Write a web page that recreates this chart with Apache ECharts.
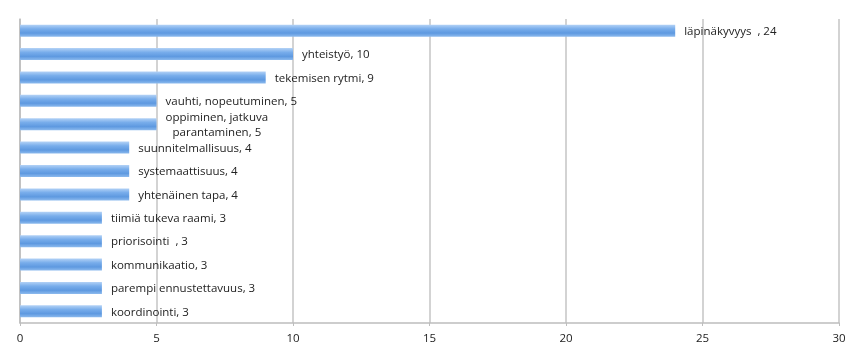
<!DOCTYPE html>
<html><head><meta charset="utf-8">
<script src="https://cdn.jsdelivr.net/npm/echarts@6/dist/echarts.min.js"></script>
<style>html,body{margin:0;padding:0;background:#fff}#c{width:862px;height:356px}</style>
</head><body><div id="c"></div>
<script>
const categories = ["läpinäkyvyys  ", "yhteistyö", "tekemisen rytmi", "vauhti, nopeutuminen", "oppiminen, jatkuva\nparantaminen", "suunnitelmallisuus", "systemaattisuus", "yhtenäinen tapa", "tiimiä tukeva raami", "priorisointi  ", "kommunikaatio", "parempi ennustettavuus", "koordinointi"];
const values = [24, 10, 9, 5, 5, 4, 4, 4, 3, 3, 3, 3, 3];
const xTicks = [0, 5, 10, 15, 20, 25, 30];

const chart = echarts.init(document.getElementById('c'), null, {renderer: 'canvas'});
chart.setOption({
  animation: false,
  textStyle: {fontFamily: 'Open Sans'},
  grid: {left: 20, right: 23, top: 19, bottom: 33, containLabel: false},
  xAxis: {
    type: 'value', min: xTicks[0], max: xTicks[xTicks.length - 1], interval: 5,
    axisLine: {show: true, lineStyle: {color: '#bdbdbd', width: 1.5}},
    axisTick: {show: true, length: 3, lineStyle: {color: '#bdbdbd'}},
    axisLabel: {color: '#222', fontSize: 11.5, margin: 10},
    splitLine: {show: true, lineStyle: {color: '#c4c4c4', width: 1.5}}
  },
  yAxis: {
    type: 'category', data: categories, inverse: true,
    axisLine: {show: true, lineStyle: {color: '#bdbdbd', width: 1.5}},
    axisTick: {show: false},
    axisLabel: {show: false}
  },
  series: [{
    type: 'bar', data: values, barWidth: 12,
    itemStyle: {
      color: new echarts.graphic.LinearGradient(0, 0, 0, 1, [
        {offset: 0, color: '#b3d2f6'},
        {offset: 0.35, color: '#78adeb'},
        {offset: 0.7, color: '#5e99e0'},
        {offset: 1, color: '#8cbaee'}
      ])
    },
    label: {
      show: true, position: 'right', distance: 9, offset: [0, 1],
      color: '#222', fontSize: 11.5, lineHeight: 15, align: 'left',
      formatter: p => {
        const name = p.name;
        if (name.indexOf('\n') >= 0) {
          return '{c|' + name.split('\n')[0] + '}\n{c2|' + name.split('\n')[1] + ', ' + p.value + '}';
        }
        return name + ', ' + p.value;
      },
      rich: {
        c: {fontSize: 11.5, color: '#222', lineHeight: 15, fontFamily: 'Open Sans'},
        c2: {fontSize: 11.5, color: '#222', lineHeight: 15, fontFamily: 'Open Sans', padding: [0, 0, 0, 7]}
      }
    }
  }]
});
</script></body></html>
